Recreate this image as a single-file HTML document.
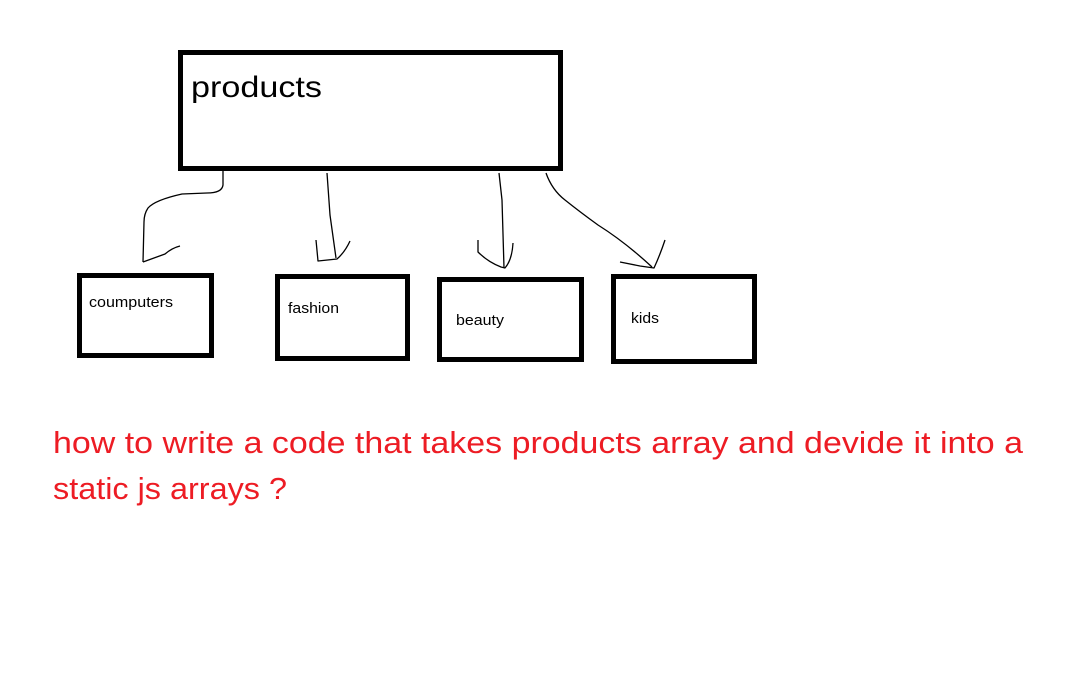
<!DOCTYPE html>
<html><head><meta charset="utf-8"><style>
html,body{margin:0;padding:0;background:#fff;}
svg{display:block;}
</style></head><body>
<svg width="1089" height="698" viewBox="0 0 1089 698" xmlns="http://www.w3.org/2000/svg">
<rect width="1089" height="698" fill="#fff"/>
<g fill="none" stroke="#000" stroke-width="5">
<rect x="180.5" y="52.5" width="380" height="116"/>
<rect x="79.5" y="275.5" width="132" height="80"/>
<rect x="277.5" y="276.5" width="130" height="82"/>
<rect x="439.5" y="279.5" width="142" height="80"/>
<rect x="613.5" y="276.5" width="141" height="85"/>
</g>
<g fill="none" stroke="#000" stroke-width="1.3" stroke-linejoin="round">
<path d="M223 171 L223 185 Q222 193 207 193 L182 194 Q155 200 148 208 Q144 214 144 222 L143 262"/>
<path d="M143 262 L165 254 Q172 248 180 246"/>
<path d="M327 173 L330 215 L336 258"/>
<path d="M316 240 L318 261 L337 259 Q345 252 350 241"/>
<path d="M499 173 L502 200 L504 268"/>
<path d="M478 240 L478 252 Q488 262 501 267 L505 268 Q512 260 513 243"/>
<path d="M546 173 Q552 190 565 200 Q580 212 598 225 Q625 242 652 267"/>
<path d="M620 262 L640 266 L654 268 Q660 255 665 240"/>
</g>
<g font-family="Liberation Sans, sans-serif" fill="#000">
<text x="191" y="97" font-size="30" textLength="131" lengthAdjust="spacingAndGlyphs">products</text>
<text x="89" y="307" font-size="15" textLength="84" lengthAdjust="spacingAndGlyphs">coumputers</text>
<text x="288" y="313" font-size="15" textLength="51" lengthAdjust="spacingAndGlyphs">fashion</text>
<text x="456" y="325" font-size="15" textLength="48" lengthAdjust="spacingAndGlyphs">beauty</text>
<text x="631" y="323" font-size="15" textLength="28" lengthAdjust="spacingAndGlyphs">kids</text>
</g>
<g font-family="Liberation Sans, sans-serif" fill="#ed1c24" font-size="31">
<text x="53" y="453" textLength="970" lengthAdjust="spacingAndGlyphs">how to write a code that takes products array and devide it into a</text>
<text x="53" y="499" textLength="234" lengthAdjust="spacingAndGlyphs">static js arrays ?</text>
</g>
</svg>
</body></html>
